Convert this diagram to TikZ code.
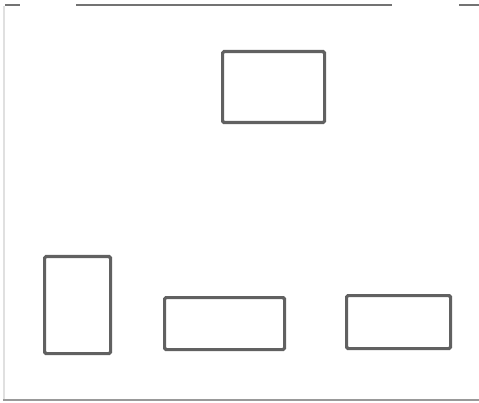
\documentclass[tikz,border=0pt]{standalone}
\usetikzlibrary{positioning}
\begin{document}
\begin{tikzpicture}[x=1pt,y=-1pt,
  boxstyle/.style={draw=black!62, line width=3.2pt, rounded corners=1.5pt, inner sep=0pt, anchor=north west},
  edgestyle/.style={draw=black!55, line width=2.8pt}]
\useasboundingbox (0,0) rectangle (479,403);
\fill[white] (0,0) rectangle (479,403);
% frame fragments
\coordinate (t1a) at (5,5); \coordinate (t1b) at (20,5);
\coordinate (t2a) at (76,5); \coordinate (t2b) at (392,5);
\coordinate (t3a) at (459,5); \coordinate (t3b) at (479,5);
\coordinate (la) at (4,6); \coordinate (lb) at (4,399);
\coordinate (ba) at (3,400); \coordinate (bb) at (479,400);
\draw[edgestyle] (t1a) -- (t1b);
\draw[edgestyle] (t2a) -- (t2b);
\draw[edgestyle] (t3a) -- (t3b);
\draw[draw=black!12, line width=1.2pt] (la) -- (lb);
\draw[draw=black!40, line width=2.4pt] (ba) -- (bb);
% boxes
\node[boxstyle, minimum width=102pt, minimum height=71pt] (top) at (221,50) {};
\node[boxstyle, minimum width=66pt, minimum height=97pt] (left) at (43,255) {};
\node[boxstyle, minimum width=120pt, minimum height=52pt] (mid) at (163,296) {};
\node[boxstyle, minimum width=104pt, minimum height=53pt] (right) at (345,294) {};
\end{tikzpicture}
\end{document}
